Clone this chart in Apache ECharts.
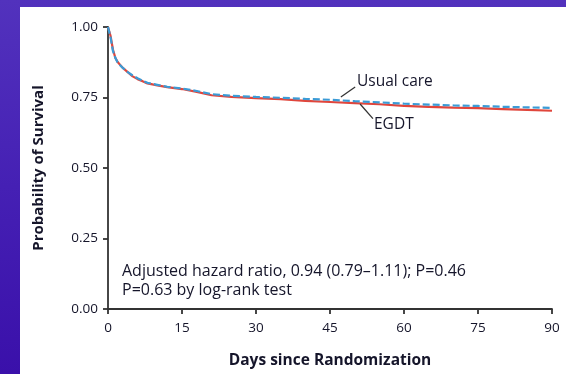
<!DOCTYPE html>
<html>
<head>
<meta charset="utf-8">
<script src="https://cdn.jsdelivr.net/npm/echarts@6/dist/echarts.min.js"></script>
<style>
html,body{margin:0;padding:0;width:566px;height:374px;overflow:hidden;}
body{background:linear-gradient(180deg,#5232bd 0%,#4520b4 50%,#3a10aa 100%);position:relative;}
#panel{position:absolute;left:20px;top:7px;width:546px;height:367px;background:#fff;}
#chart{position:absolute;left:0;top:0;width:566px;height:374px;}
</style>
</head>
<body>
<div id="panel"></div>
<div id="chart"></div>
<script>
// Days since randomization (x) and survival probabilities
const days = [0,0.5,1,1.5,2,3,4,5,6,7,8,10,12,15,18,21,25,30,35,40,45,50,55,60,65,70,75,80,85,90];
const egdt = [1.0,0.97,0.92,0.89,0.875,0.855,0.84,0.825,0.815,0.808,0.80,0.793,0.787,0.78,0.77,0.758,0.752,0.748,0.744,0.738,0.734,0.73,0.726,0.72,0.717,0.714,0.712,0.709,0.706,0.703];
const usualCare = [1.0,0.965,0.915,0.89,0.872,0.855,0.84,0.828,0.818,0.81,0.802,0.795,0.788,0.782,0.773,0.762,0.756,0.752,0.749,0.745,0.742,0.737,0.733,0.728,0.725,0.722,0.72,0.717,0.715,0.713];
const xTicks = [0,15,30,45,60,75,90];
const yTicks = [0,0.25,0.5,0.75,1.0];
const seriesNames = ['EGDT','Usual care'];
const noteLines = ['Adjusted hazard ratio, 0.94 (0.79\u20131.11); P=0.46','P=0.63 by log-rank test'];
const usualLeader = [[47.2,0.752],[50.1,0.787]];
const egdtLeader = [[51.1,0.727],[53.7,0.675]];

const FONT = 'Open Sans';
const TXT = '#15152a';
const chart = echarts.init(document.getElementById('chart'));
const pair = (xs, ys) => xs.map((x,i)=>[x,ys[i]]);
chart.setOption({
  animation:false,
  backgroundColor:'transparent',
  grid:{left:108,right:14,top:27,bottom:61,containLabel:false},
  xAxis:{type:'value',min:0,max:90,interval:15,
    name:'Days since Randomization',nameLocation:'middle',nameGap:44,
    nameTextStyle:{fontFamily:FONT,fontSize:15.5,fontWeight:'bold',color:TXT},
    axisLine:{lineStyle:{color:'#333',width:1.8}},
    axisTick:{length:5,lineStyle:{color:'#333',width:1.8}},
    axisLabel:{fontFamily:FONT,fontSize:13.5,color:TXT,margin:12,formatter:v=>xTicks.includes(v)?String(v):''},
    splitLine:{show:false}},
  yAxis:{type:'value',min:0,max:1,interval:0.25,
    name:'Probability of Survival',nameLocation:'middle',nameGap:62,
    nameTextStyle:{fontFamily:FONT,fontSize:15,fontWeight:'bold',color:TXT},
    axisLine:{show:true,lineStyle:{color:'#333',width:1.8}},
    axisTick:{show:true,length:5,lineStyle:{color:'#333',width:1.8}},
    axisLabel:{fontFamily:FONT,fontSize:13.5,color:TXT,margin:10,formatter:v=>yTicks.includes(v)?v.toFixed(2):''},
    splitLine:{show:false}},
  series:[
    {name:seriesNames[0],type:'line',data:pair(days,egdt),showSymbol:false,
     lineStyle:{color:'#e0463c',width:2.2},z:2,
     markLine:{silent:true,symbol:'none',label:{show:false},lineStyle:{color:'#333',width:1.3,type:'solid'},
       data:[[{coord:egdtLeader[0]},{coord:egdtLeader[1]}]]}},
    {name:seriesNames[1],type:'line',data:pair(days,usualCare),showSymbol:false,
     lineStyle:{color:'#3b9bd6',width:2.2,type:[7,3]},z:3,
     markLine:{silent:true,symbol:'none',label:{show:false},lineStyle:{color:'#333',width:1.3,type:'solid'},
       data:[[{coord:usualLeader[0]},{coord:usualLeader[1]}]]}}
  ],
  graphic:[
    {type:'text',x:357,y:82,style:{text:seriesNames[1],fontFamily:FONT,fontSize:15.5,fill:TXT,verticalAlign:'middle'}},
    {type:'text',x:374,y:125,style:{text:seriesNames[0],fontFamily:FONT,fontSize:15.5,fill:TXT,verticalAlign:'middle'}},
    {type:'text',x:122,y:271,style:{text:noteLines[0],fontFamily:FONT,fontSize:16,fill:TXT,verticalAlign:'middle'}},
    {type:'text',x:122,y:290,style:{text:noteLines[1],fontFamily:FONT,fontSize:16,fill:TXT,verticalAlign:'middle'}}
  ]
});
</script>
</body>
</html>
